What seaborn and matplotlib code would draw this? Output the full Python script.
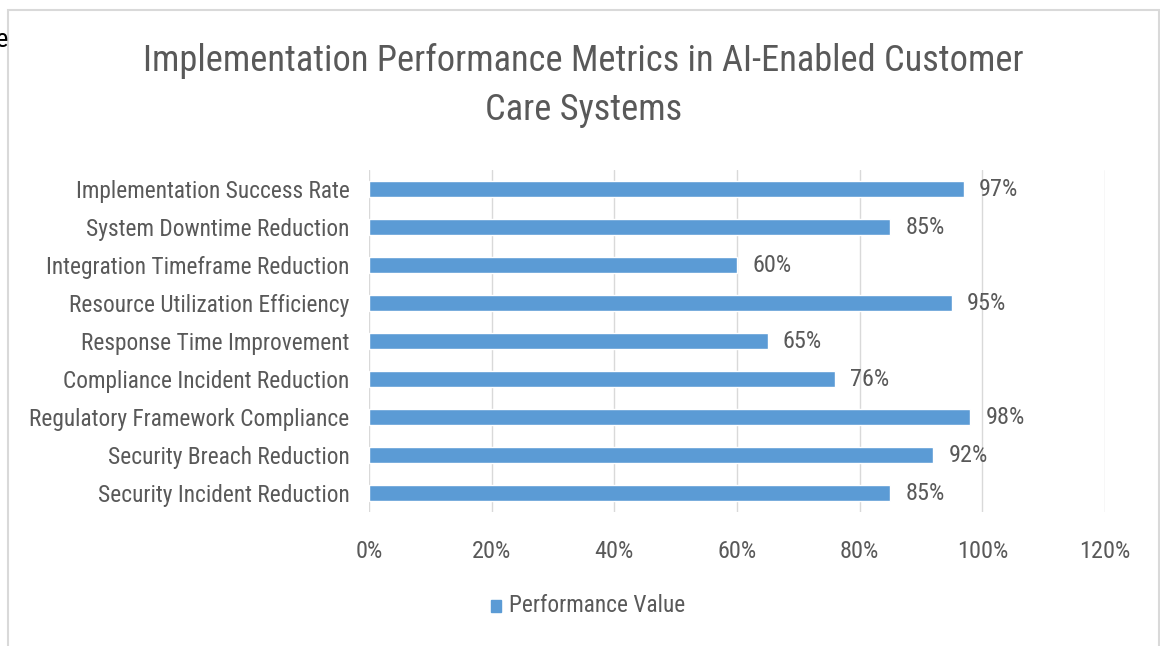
import numpy as np
import pandas as pd
import matplotlib.pyplot as plt
import seaborn as sns
from matplotlib.patches import Rectangle
from matplotlib.ticker import FuncFormatter

metrics = ["Implementation Success Rate", "System Downtime Reduction",
           "Integration Timeframe Reduction", "Resource Utilization Efficiency",
           "Response Time Improvement", "Compliance Incident Reduction",
           "Regulatory Framework Compliance", "Security Breach Reduction",
           "Security Incident Reduction"]
values = [97, 85, 60, 95, 65, 76, 98, 92, 85]
x_ticks = [0, 20, 40, 60, 80, 100, 120]

df = pd.DataFrame({"Metric": metrics, "Performance Value": values})

sns.set_style("white")
plt.rcParams["font.family"] = ["Roboto Condensed", "Archivo Narrow",
                               "Barlow Semi Condensed", "DejaVu Sans"]

gray = "#595959"
blue = "#5B9BD5"

fig = plt.figure(figsize=(11.6, 6.46), dpi=100)
ax = fig.add_axes([0.318, 0.2074, 0.6346, 0.5294])

sns.barplot(data=df, y="Metric", x="Performance Value", color=blue,
            width=0.4, ax=ax, orient="h", saturation=1)

ax.set_xlim(0, 120)
ax.set_xticks(x_ticks)
ax.xaxis.set_major_formatter(FuncFormatter(lambda v, p: f"{v:.0f}%"))
ax.grid(axis="x", color="#D9D9D9", linewidth=1)
ax.set_axisbelow(True)
for s in ax.spines.values():
    s.set_visible(False)
ax.set_xlabel("")
ax.set_ylabel("")
ax.tick_params(axis="x", colors=gray, labelsize=17.5, length=0, pad=20)
ax.tick_params(axis="y", colors=gray, labelsize=16.8, length=0, pad=14)

for i, v in enumerate(values):
    ax.annotate(f"{v}%", (v, i), xytext=(11, 0), textcoords="offset points",
                va="center", ha="left", fontsize=17.5, color=gray)

fig.text(0.503, 1 - 43 / 646,
         "Implementation Performance Metrics in AI-Enabled Customer\nCare Systems",
         ha="center", va="top", fontsize=26.2, color=gray, linespacing=1.45)

# legend
fig.patches.append(Rectangle((491 / 1160, 1 - 612 / 646), 10 / 1160, 12 / 646,
                             transform=fig.transFigure, color=blue))
fig.text(509 / 1160, 1 - 606 / 646, "Performance Value", fontsize=16.8,
         color=gray, va="center", ha="left")

# chart frame
fig.patches.append(Rectangle((8 / 1160, -0.01), 1151 / 1160, 1 - 10 / 646 + 0.01,
                             transform=fig.transFigure, fill=False,
                             edgecolor="#D9D9D9", linewidth=1.5))
fig.text(0.007, 1 - 40 / 646, "e", fontsize=19, color="black", ha="right", va="center")

fig.savefig("out.png", dpi=100)
